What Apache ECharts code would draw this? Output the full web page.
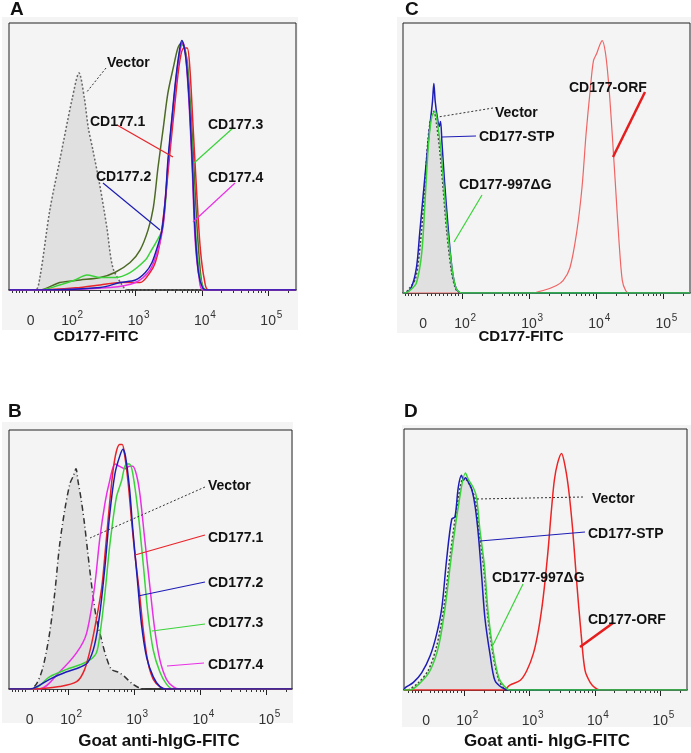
<!DOCTYPE html>
<html>
<head>
<meta charset="utf-8">
<script src="https://cdn.jsdelivr.net/npm/echarts@6/dist/echarts.min.js"></script>
<style>
html, body { margin: 0; background: #fff; }
#main { width: 691px; height: 753px; }
</style>
</head>
<body>
<div id="main"></div>
<script>
// x values are in display (biexponential) units: 2 = 10^2, 3 = 10^3 ... ; 1.42 is the "0" position
// y values are % of the highest peak in the panel
var tickPos = [1.42, 2, 3, 4, 5];
var tickText = ['0', '10^2', '10^3', '10^4', '10^5'];

// panel A : CD177-FITC
var vectorA = [[1.49,0],[1.56,5],[1.71,32],[1.86,52],[2.05,77],[2.15,87],[2.23,77],[2.29,65],[2.36,56],[2.47,41],[2.57,25],[2.66,9],[2.80,2],[2.88,0]];
var oliveA = [[1.56,0],[1.86,3],[2.17,4],[2.47,5],[2.69,7],[2.92,11],[3.07,16],[3.19,24],[3.27,33],[3.34,49],[3.42,65],[3.49,79],[3.57,89],[3.64,97],[3.69,99],[3.75,96],[3.79,89],[3.87,56],[3.92,29],[3.98,7],[4.02,1],[4.07,0]];
var cd1A = [[1.56,0],[2.17,1],[2.47,2],[2.77,3],[3.07,3],[3.22,7],[3.30,11],[3.37,19],[3.45,36],[3.52,55],[3.60,76],[3.67,92],[3.73,97],[3.78,97],[3.82,89],[3.87,65],[3.93,36],[3.98,16],[4.04,4],[4.10,0]];
var cd2A = [[1.56,0],[2.47,1],[2.77,3],[3.00,4],[3.15,7],[3.25,11],[3.34,18],[3.40,24],[3.45,36],[3.49,52],[3.55,69],[3.61,85],[3.67,97],[3.70,100],[3.76,93],[3.81,76],[3.86,49],[3.90,23],[3.95,7],[4.01,1],[4.07,0]];
var cd3A = [[1.56,0],[1.86,2],[2.09,4],[2.27,6],[2.47,5],[2.69,5],[2.92,7],[3.15,12],[3.22,15],[3.33,20],[3.40,24],[3.45,34],[3.49,50],[3.55,68],[3.61,84],[3.67,96],[3.70,99],[3.76,94],[3.81,78],[3.86,53],[3.90,26],[3.96,8],[4.02,1],[4.08,0]];
var cd4A = [[1.56,0],[2.62,1],[3.00,3],[3.22,8],[3.34,16],[3.42,26],[3.46,40],[3.51,56],[3.57,73],[3.63,88],[3.69,98],[3.72,99],[3.76,93],[3.81,74],[3.86,46],[3.90,20],[3.96,5],[4.02,0]];

// panel B : Goat anti-hIgG-FITC
var vectorB = [[1.42,0],[1.52,2],[1.62,9],[1.72,23],[1.80,40],[1.87,59],[1.95,74],[2.03,85],[2.08,88],[2.12,91],[2.15,86],[2.20,78],[2.25,68],[2.30,56],[2.37,40],[2.43,29],[2.51,20],[2.58,13],[2.66,8],[2.76,7],[2.86,5],[2.98,2],[3.14,0]];
var cd1B = [[1.47,0],[1.87,1],[2.13,3],[2.25,8],[2.35,18],[2.43,29],[2.51,42],[2.57,59],[2.63,77],[2.68,90],[2.73,98],[2.78,101],[2.82,101],[2.86,96],[2.91,85],[2.96,70],[3.01,56],[3.08,40],[3.14,24],[3.21,11],[3.29,4],[3.39,1],[3.49,0]];
var cd2B = [[1.42,0],[1.72,4],[1.97,7],[2.18,9],[2.30,11],[2.40,18],[2.48,31],[2.56,51],[2.63,72],[2.71,89],[2.78,96],[2.83,99],[2.87,96],[2.93,83],[2.98,66],[3.05,45],[3.11,27],[3.19,13],[3.29,5],[3.39,1],[3.49,0]];
var cd3B = [[1.47,0],[1.72,5],[1.97,8],[2.18,10],[2.33,12],[2.43,15],[2.48,22],[2.56,40],[2.63,59],[2.73,79],[2.81,86],[2.88,93],[2.93,93],[2.98,89],[3.06,73],[3.14,51],[3.21,31],[3.29,16],[3.39,7],[3.49,2],[3.59,0]];
var cd4B = [[1.57,0],[1.87,7],[2.13,15],[2.28,23],[2.40,42],[2.48,62],[2.56,77],[2.63,86],[2.71,93],[2.78,92],[2.86,91],[2.93,92],[2.98,92],[3.04,88],[3.09,80],[3.16,62],[3.24,42],[3.31,25],[3.39,12],[3.49,4],[3.59,1],[3.69,0]];

// panel C : CD177-FITC
var vectorC = [[1.14,0],[1.22,2],[1.31,6],[1.38,20],[1.44,40],[1.49,60],[1.54,70],[1.58,72],[1.62,67],[1.67,56],[1.72,41],[1.77,25],[1.84,9],[1.90,2],[1.97,0]];
var stpC = [[1.15,0],[1.24,2],[1.32,10],[1.37,24],[1.45,47],[1.52,66],[1.56,76],[1.58,83],[1.60,76],[1.63,70],[1.66,66],[1.68,68],[1.70,60],[1.74,44],[1.79,27],[1.85,10],[1.91,2],[1.99,0]];
var dgC = [[1.15,0],[1.22,1],[1.32,4],[1.40,16],[1.45,37],[1.50,59],[1.55,70],[1.60,72],[1.63,68],[1.68,58],[1.73,42],[1.78,26],[1.85,10],[1.91,2],[2.00,0]];
var orfC = [[3.02,0],[3.21,1],[3.41,3],[3.51,5],[3.61,10],[3.71,24],[3.79,42],[3.85,63],[3.91,80],[3.96,92],[4.01,95],[4.05,98],[4.09,100],[4.14,95],[4.19,82],[4.24,63],[4.29,42],[4.34,21],[4.39,5],[4.44,1],[4.49,0]];

// panel D : Goat anti- hIgG-FITC
var vectorD = [[1.12,0],[1.30,3],[1.45,8],[1.58,18],[1.69,34],[1.79,56],[1.89,75],[1.99,87],[2.04,86],[2.12,82],[2.18,77],[2.23,65],[2.30,50],[2.36,31],[2.44,15],[2.52,5],[2.60,1],[2.70,0]];
var stpD = [[1.08,0],[1.10,1],[1.22,3],[1.35,7],[1.48,14],[1.58,23],[1.66,34],[1.73,53],[1.81,70],[1.86,71],[1.91,83],[1.96,88],[1.99,86],[2.02,87],[2.07,85],[2.12,82],[2.17,75],[2.22,63],[2.27,46],[2.32,29],[2.40,14],[2.47,4],[2.58,1],[2.70,0]];
var dgD = [[1.17,0],[1.33,3],[1.48,8],[1.61,18],[1.71,34],[1.81,56],[1.91,75],[2.02,89],[2.07,86],[2.14,83],[2.19,79],[2.24,66],[2.31,51],[2.37,31],[2.45,15],[2.53,5],[2.60,2],[2.70,0]];
var orfD = [[1.08,0],[2.60,0],[2.70,2],[2.86,4],[2.96,8],[3.06,15],[3.14,25],[3.21,38],[3.28,56],[3.33,72],[3.38,86],[3.43,93],[3.49,97],[3.55,91],[3.60,82],[3.66,66],[3.72,45],[3.79,23],[3.85,8],[3.93,3],[4.00,1],[4.08,0]];

var FONT = '"Liberation Sans", Arial, sans-serif';
var myChart = echarts.init(document.getElementById('main'));

// panels: A, B, C, D
var panels = [
    { left: 9,   top: 23,  width: 287, height: 267, min: 1.095, max: 5.42 },
    { left: 9,   top: 430, width: 283, height: 259, min: 1.106, max: 5.39 },
    { left: 403, top: 23,  width: 287, height: 270, min: 1.12,  max: 5.40 },
    { left: 404, top: 429, width: 283, height: 261, min: 1.08,  max: 5.41 }
];

// minor ticks (log steps per decade, dense ticks in the linear part)
var minorTicks = [1.15, 1.2, 1.25, 1.3, 1.35, 1.48, 1.54, 1.6, 1.66, 1.72, 1.78, 1.84, 1.9, 1.95];
for (var d = 2; d <= 4; d++) {
    for (var k = 2; k <= 9; k++) minorTicks.push(d + Math.log10(k));
}
minorTicks.push(5 + Math.log10(2));

var grids = [], xAxes = [], yAxes = [];
panels.forEach(function (p, i) {
    grids.push({
        left: p.left, top: p.top, width: p.width, height: p.height,
        show: true, backgroundColor: 'transparent', borderColor: '#222', borderWidth: 1
    });
    xAxes.push({
        gridIndex: i, type: 'value', position: 'bottom', min: p.min, max: p.max,
        axisLine: { show: true, lineStyle: { color: '#222', width: 1.5 } },
        axisTick: { show: true, customValues: tickPos.slice(1), length: 6, lineStyle: { color: '#222' } },
        splitLine: { show: false },
        axisLabel: {
            customValues: tickPos, margin: 20, color: '#333',
            formatter: function (v) {
                var idx = 0, best = 99;
                tickPos.forEach(function (t, j) { if (Math.abs(t - v) < best) { best = Math.abs(t - v); idx = j; } });
                var parts = tickText[idx].split('^');
                // same token layout for every label so all share one baseline
                return '{p|}{b|' + parts[0] + '}{s|' + (parts[1] || '') + '}';
            },
            rich: {
                b: { fontSize: 14, lineHeight: 22, fontFamily: FONT, color: '#333' },
                p: { width: 7, fontSize: 14, lineHeight: 22 },
                s: { width: 7, fontSize: 10, lineHeight: 8, verticalAlign: 'top', fontFamily: FONT, color: '#333' }
            }
        }
    });
    xAxes.push({
        gridIndex: i, type: 'value', position: 'bottom', min: p.min, max: p.max,
        axisLine: { show: false },
        axisTick: { show: true, customValues: minorTicks, length: 3, lineStyle: { color: '#333' } },
        splitLine: { show: false },
        axisLabel: { show: false }
    });
    yAxes.push({
        gridIndex: i, type: 'value', min: 0, max: 107, show: false
    });
});

function curve(panel, name, data, color, width) {
    var p = panels[panel];
    return {
        type: 'line', name: name, xAxisIndex: panel * 2, yAxisIndex: panel,
        data: [[p.min, 0]].concat(data, [[p.max, 0]]),
        showSymbol: false, smooth: 0.3, silent: true, z: 3,
        lineStyle: { color: color, width: width || 1.5 }
    };
}
function vector(panel, data, color, dash) {
    var s = curve(panel, 'Vector', data, color, 1.5);
    s.lineStyle.type = dash;
    s.areaStyle = { color: '#e0e0e0', opacity: 1 };
    s.z = 2;
    return s;
}

var RED = '#e8242a', BLUE = '#1d1db5', GREEN = '#3ad33a', MAG = '#e930e6', OLIVE = '#4d6a25';

var series = [
    vector(0, vectorA, '#666', [2, 2]),
    curve(0, 'olive', oliveA, OLIVE),
    curve(0, 'CD177.3', cd3A, GREEN),
    curve(0, 'CD177.1', cd1A, RED),
    curve(0, 'CD177.4', cd4A, MAG),
    curve(0, 'CD177.2', cd2A, BLUE),

    vector(1, vectorB, '#333', [6, 3, 1, 3]),
    curve(1, 'CD177.4', cd4B, MAG),
    curve(1, 'CD177.3', cd3B, GREEN),
    curve(1, 'CD177.1', cd1B, RED),
    curve(1, 'CD177.2', cd2B, BLUE),

    vector(2, vectorC, '#444', [2, 2]),
    curve(2, 'CD177-ORF', orfC, '#f06464', 1.2),
    curve(2, 'CD177-STP', stpC, BLUE),
    curve(2, 'CD177-997ΔG', dgC, GREEN),

    vector(3, vectorD, '#444', [2, 2]),
    curve(3, 'CD177-ORF', orfD, '#ee2424', 1.5),
    curve(3, 'CD177-STP', stpD, BLUE),
    curve(3, 'CD177-997ΔG', dgD, GREEN)
];

// annotation helpers
function txt(x, y, s, size, align) {
    return { type: 'text', z: 100, style: { x: x, y: y, text: s, font: 'bold ' + (size || 14) + 'px ' + FONT, fill: '#111', align: align || 'left', verticalAlign: 'middle' } };
}
function ln(x1, y1, x2, y2, color, w, dash) {
    return { type: 'line', z: 99, shape: { x1: x1, y1: y1, x2: x2, y2: y2 }, style: { stroke: color, lineWidth: w || 1.2, lineDash: dash || null } };
}
function bg(x, y, w, h) {
    return { type: 'rect', z: -10, shape: { x: x, y: y, width: w, height: h }, style: { fill: '#f4f4f4' } };
}
var DOT = [2, 2];

var graphics = [
    bg(2, 17, 296, 313), bg(397, 17, 294, 316), bg(2, 422, 291, 301), bg(402, 425, 289, 302),
    // letters
    txt(10, 10, 'A', 19), txt(405, 10, 'C', 19), txt(8, 412, 'B', 19), txt(404, 412, 'D', 19),
    // axis titles
    txt(96, 337, 'CD177-FITC', 15, 'center'), txt(521, 337, 'CD177-FITC', 15, 'center'),
    txt(159, 741, 'Goat anti-hIgG-FITC', 17, 'center'), txt(547, 741, 'Goat anti- hIgG-FITC', 17, 'center'),
    // panel A
    txt(107, 63, 'Vector'), ln(106, 68, 86, 93, '#333', 1, DOT),
    txt(90, 122, 'CD177.1'), ln(117, 125, 173, 157, RED),
    txt(208, 125, 'CD177.3'), ln(233, 128, 194, 163, GREEN),
    txt(96, 177, 'CD177.2'), ln(103, 183, 160, 230, BLUE),
    txt(208, 178, 'CD177.4'), ln(235, 183, 193, 222, MAG),
    // panel B
    txt(208, 486, 'Vector'), ln(205, 487, 90, 538, '#333', 1, DOT),
    txt(208, 538, 'CD177.1'), ln(205, 535, 135, 555, RED),
    txt(208, 583, 'CD177.2'), ln(205, 582, 138, 596, BLUE),
    txt(208, 623, 'CD177.3'), ln(205, 624, 152, 631, GREEN),
    txt(208, 665, 'CD177.4'), ln(204, 663, 167, 666, MAG),
    // panel C
    txt(569, 88, 'CD177-ORF'), ln(645, 92, 613, 157, '#e51d1d', 2.5),
    txt(495, 113, 'Vector'), ln(493, 108, 438, 117, '#333', 1, DOT),
    txt(479, 137, 'CD177-STP'), ln(476, 136, 442, 137, BLUE),
    txt(459, 185, 'CD177-997ΔG'), ln(482, 195, 454, 242, GREEN),
    // panel D
    txt(592, 499, 'Vector'), ln(583, 497, 477, 499, '#333', 1, DOT),
    txt(588, 534, 'CD177-STP'), ln(585, 532, 480, 541, BLUE),
    txt(492, 578, 'CD177-997ΔG'), ln(523, 584, 493, 645, GREEN),
    txt(588, 620, 'CD177-ORF'), ln(613, 623, 580, 647, '#e51d1d', 2.5)
];

var option = {
    animation: false,
    backgroundColor: '#fff',
    grid: grids,
    xAxis: xAxes,
    yAxis: yAxes,
    graphic: graphics,
    series: series
};
myChart.setOption(option);
window.addEventListener('resize', function () {
    myChart.resize();
});
</script>
</body>
</html>
